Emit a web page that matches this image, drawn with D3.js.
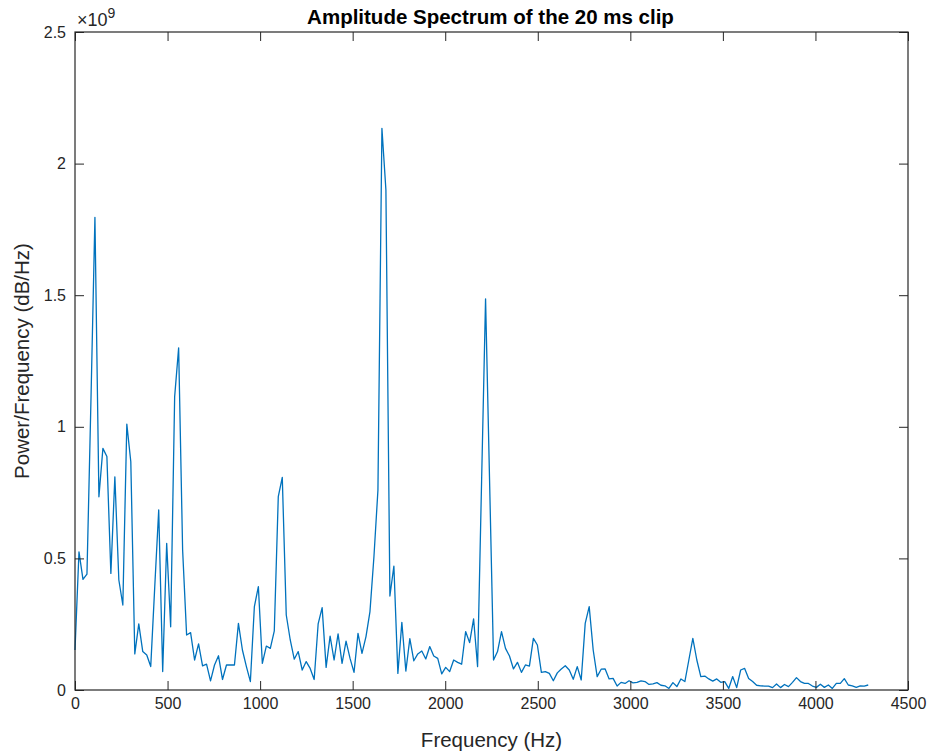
<!DOCTYPE html>
<html><head><meta charset="utf-8">
<script src="https://cdn.jsdelivr.net/npm/d3@7"></script>
<style>body{margin:0;background:#fff}svg{display:block}</style>
</head><body>
<svg id="c" width="930" height="753"></svg>
<script>
// FFT bin width (Hz) of the spectrum: 44100 Hz sample rate, 2048-point FFT
const binHz = 44100 / 2048;
// Amplitude values (x 1e9) for bins 0..199
const amplitude = [
0.152,0.525,0.42,0.44,1.1,1.796,0.734,0.918,0.887,0.443,
0.81,0.418,0.323,1.01,0.867,0.137,0.251,0.146,0.133,0.089,
0.39,0.684,0.07,0.557,0.24,1.114,1.30,0.532,0.209,0.218,
0.114,0.175,0.092,0.098,0.035,0.095,0.13,0.04,0.095,0.095,
0.095,0.253,0.152,0.089,0.032,0.317,0.393,0.101,0.167,0.158,
0.225,0.735,0.808,0.285,0.19,0.117,0.146,0.076,0.108,0.082,
0.04,0.251,0.313,0.086,0.205,0.114,0.213,0.101,0.186,0.12,
0.067,0.215,0.139,0.203,0.298,0.507,0.76,2.134,1.90,0.357,
0.471,0.063,0.257,0.072,0.195,0.111,0.137,0.148,0.118,0.165,
0.129,0.12,0.061,0.086,0.07,0.114,0.105,0.098,0.222,0.18,
0.27,0.089,0.79,1.486,0.80,0.114,0.146,0.222,0.158,0.129,
0.08,0.105,0.067,0.095,0.091,0.196,0.171,0.067,0.07,0.063,
0.035,0.065,0.08,0.092,0.076,0.041,0.089,0.038,0.253,0.317,
0.152,0.051,0.079,0.08,0.042,0.044,0.015,0.029,0.025,0.035,
0.027,0.029,0.035,0.032,0.021,0.023,0.028,0.018,0.016,0.006,
0.028,0.013,0.042,0.032,0.114,0.196,0.114,0.051,0.053,0.042,
0.034,0.042,0.029,0.032,0.006,0.051,0.009,0.076,0.082,0.044,
0.032,0.018,0.016,0.015,0.015,0.009,0.023,0.009,0.021,0.013,
0.029,0.047,0.032,0.025,0.025,0.015,0.01,0.022,0.01,0.019,
0.006,0.025,0.025,0.043,0.019,0.016,0.01,0.016,0.015,0.019
];
const xTicks = [0,500,1000,1500,2000,2500,3000,3500,4000,4500];
const yTicks = [0,0.5,1,1.5,2,2.5];
const yTickLabels = ["0","0.5","1","1.5","2","2.5"];
const titleText = "Amplitude Spectrum of the 20 ms clip";
const xLabel = "Frequency (Hz)";
const yLabel = "Power/Frequency (dB/Hz)";

const W = 930, H = 753;
const m = {left:75, right:22, top:32, bottom:63};
const pw = W - m.left - m.right, ph = H - m.top - m.bottom;
const axisColor = "#262626";
const font = "'Liberation Sans', Arial, Helvetica, sans-serif";

const svg = d3.select("#c");
const g = svg.append("g").attr("transform", `translate(${m.left},${m.top})`);
const x = d3.scaleLinear().domain([0,4500]).range([0,pw]);
const y = d3.scaleLinear().domain([0,2.5]).range([ph,0]);
const tl = 9;

// data line
const data = amplitude.map((v,i)=>({f:i*binHz, v}));
g.append("path").datum(data)
  .attr("fill","none").attr("stroke","#0072BD").attr("stroke-width",1.3)
  .attr("stroke-linejoin","round")
  .attr("d", d3.line().x(d=>x(d.f)).y(d=>y(d.v)));

// axes with inward ticks
const styleAxis = sel => {
  sel.select(".domain").remove();
  sel.selectAll(".tick line").attr("stroke",axisColor).attr("stroke-width",1);
  sel.selectAll(".tick text").attr("fill",axisColor).style("font-family",font).style("font-size","16px");
};
g.append("g").attr("transform",`translate(0,${ph})`)
  .call(d3.axisBottom(x).tickValues(xTicks).tickFormat(d3.format("d")).tickSizeInner(-tl).tickSizeOuter(0).tickPadding(8))
  .call(styleAxis);
g.append("g")
  .call(d3.axisTop(x).tickValues(xTicks).tickFormat("").tickSizeInner(-tl).tickSizeOuter(0))
  .call(styleAxis);
g.append("g")
  .call(d3.axisLeft(y).tickValues(yTicks).tickFormat((d,i)=>yTickLabels[i]).tickSizeInner(-tl).tickSizeOuter(0).tickPadding(9))
  .call(styleAxis);
g.append("g").attr("transform",`translate(${pw},0)`)
  .call(d3.axisRight(y).tickValues(yTicks).tickFormat("").tickSizeInner(-tl).tickSizeOuter(0))
  .call(styleAxis);

// box
g.append("rect").attr("x",0).attr("y",0).attr("width",pw).attr("height",ph)
  .attr("fill","none").attr("stroke",axisColor).attr("stroke-width",1.2);

// exponent label
const ex = svg.append("text").attr("x",77).attr("y",26).attr("fill",axisColor)
  .style("font-family",font).style("font-size","18px");
ex.append("tspan").text("\u00d710");
ex.append("tspan").attr("dy",-8).style("font-size","14px").text("9");

// title
svg.append("text").attr("x", m.left + pw/2 - 1).attr("y", 24).attr("text-anchor","middle")
  .attr("fill","#000").style("font-family",font).style("font-size","20.5px").style("font-weight","bold")
  .text(titleText);
// x label
svg.append("text").attr("x", m.left + pw/2).attr("y", 747).attr("text-anchor","middle")
  .attr("fill",axisColor).style("font-family",font).style("font-size","20.5px").text(xLabel);
// y label
svg.append("text").attr("transform",`translate(29,${m.top+ph/2}) rotate(-90)`).attr("text-anchor","middle")
  .attr("fill",axisColor).style("font-family",font).style("font-size","20.5px").text(yLabel);
</script>
</body></html>
